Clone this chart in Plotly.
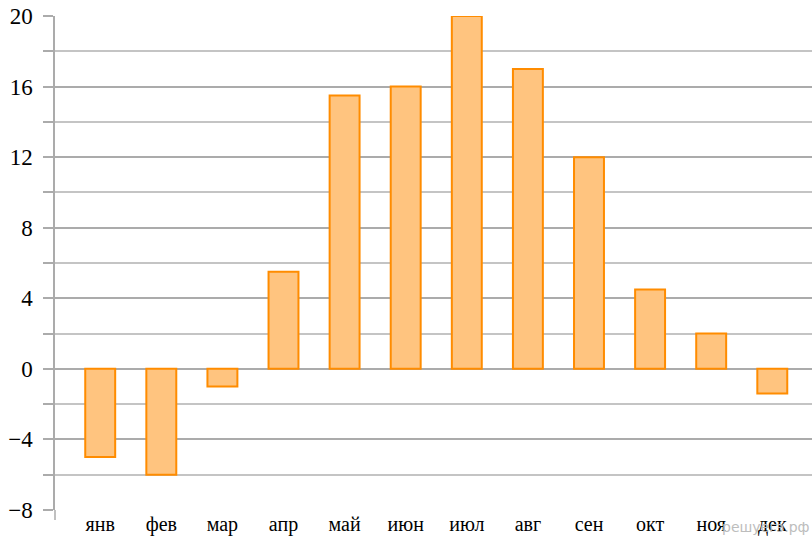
import plotly.graph_objects as go

months = ["янв", "фев", "мар", "апр", "май", "июн", "июл", "авг", "сен", "окт", "ноя", "дек"]
temps = [-5, -6, -1, 5.5, 15.5, 16, 20, 17, 12, 4.5, 2, -1.4]
y_tick_vals = [-8, -4, 0, 4, 8, 12, 16, 20]
y_tick_text = ["−8", "−4", "0", "4", "8", "12", "16", "20"]

fig = go.Figure()
fig.add_trace(go.Bar(
    x=list(range(len(months))),
    y=temps,
    marker=dict(color="#FFC47F", line=dict(color="#FF8C00", width=2)),
    width=0.49,
))

grid_col = "#ababab"
serif = "Liberation Serif, Times New Roman, serif"
fig.update_layout(
    width=812, height=541,
    margin=dict(l=55, r=0, t=16, b=31),
    plot_bgcolor="white", paper_bgcolor="white",
    showlegend=False,
    font=dict(family=serif, color="black"),
    xaxis=dict(
        range=[-0.74, 11.65],
        tickvals=list(range(len(months))),
        ticktext=months,
        tickfont=dict(size=20, family=serif, color="black"),
        showgrid=False, zeroline=False, showline=False, ticks="",
        automargin=False,
    ),
    yaxis=dict(
        range=[-8, 20],
        tickvals=y_tick_vals,
        ticktext=y_tick_text,
        tickfont=dict(size=23, family=serif, color="black"),
        ticks="outside", ticklen=10, tickcolor=grid_col, tickwidth=1.5,
        showgrid=True, gridcolor=grid_col, gridwidth=1.5,
        minor=dict(dtick=2, tick0=0, ticks="outside", ticklen=10, tickcolor=grid_col,
                   showgrid=True, gridcolor="#c4c4c4", gridwidth=1.5),
        zeroline=False,
        showline=True, linecolor=grid_col, linewidth=1.5,
        ticklabelstandoff=6,
        automargin=False,
    ),
)

fig.add_shape(type="line", xref="paper", yref="paper", x0=0, x1=0, y0=0, y1=-0.02,
              line=dict(color=grid_col, width=1.5))

fig.add_annotation(text="решуегэ.рф", xref="paper", yref="paper", x=1.0, y=-0.015,
                   xanchor="right", yanchor="top", showarrow=False,
                   font=dict(family="DejaVu Sans", size=14, color="#bdbdbd"))

fig.write_html("out.html",
               config={"displayModeBar": False},
               post_script="document.body.style.margin='0';document.body.style.overflow='hidden';")
